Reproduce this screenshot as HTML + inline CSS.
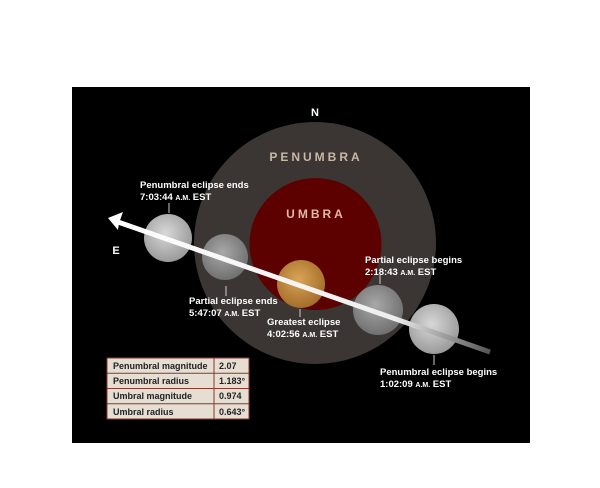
<!DOCTYPE html>
<html><head><style>
body{margin:0;background:#fff;width:600px;height:488px;overflow:hidden;font-family:"Liberation Sans",sans-serif}
</style></head><body>
<svg width="600" height="488" xmlns="http://www.w3.org/2000/svg" style="position:absolute;left:0;top:0">
<defs>
<radialGradient id="m" cx="45%" cy="40%" r="60%"><stop offset="0" stop-color="#d8d8d8"/><stop offset="1" stop-color="#9a9a9a"/></radialGradient>
<radialGradient id="md" cx="45%" cy="40%" r="60%"><stop offset="0" stop-color="#a8a8a8"/><stop offset="1" stop-color="#707070"/></radialGradient>
<radialGradient id="mo" cx="45%" cy="40%" r="60%"><stop offset="0" stop-color="#d9a458"/><stop offset="1" stop-color="#a56d2a"/></radialGradient>
<linearGradient id="ar" x1="108" y1="218" x2="490" y2="352" gradientUnits="userSpaceOnUse"><stop offset="0" stop-color="#fff"/><stop offset="0.75" stop-color="#eee"/><stop offset="1" stop-color="#555"/></linearGradient>
</defs>
<rect x="72" y="87" width="458" height="356" fill="#000"/>
<circle cx="315" cy="243" r="121" fill="#3b3633"/>
<circle cx="315.5" cy="244" r="66" fill="#5c0000"/>
<text x="315" y="116" fill="#fff" font-size="11" font-weight="bold" text-anchor="middle">N</text>
<text x="316" y="161" fill="#c8b8a6" font-size="12" font-weight="bold" text-anchor="middle" letter-spacing="3">PENUMBRA</text>
<text x="316" y="218" fill="#e0b8a8" font-size="12" font-weight="bold" text-anchor="middle" letter-spacing="3">UMBRA</text>
<text x="116" y="254" fill="#fff" font-size="11" font-weight="bold" text-anchor="middle">E</text>
<circle cx="168" cy="238" r="24" fill="url(#m)"/>
<circle cx="225" cy="257" r="23" fill="url(#md)"/>
<circle cx="301" cy="284" r="24" fill="url(#mo)"/>
<circle cx="378" cy="310" r="25" fill="url(#md)"/>
<circle cx="434" cy="329" r="25" fill="url(#m)"/>
<line x1="490" y1="352" x2="118" y2="222" stroke="url(#ar)" stroke-width="5"/>
<polygon points="108,218 123,212 119,223 118,230" fill="#fff"/>
<g stroke="#ccc" stroke-width="1">
<line x1="169" y1="203" x2="169" y2="213"/>
<line x1="226" y1="286" x2="226" y2="296"/>
<line x1="300" y1="309" x2="300" y2="317"/>
<line x1="380" y1="275" x2="380" y2="284"/>
<line x1="434" y1="355" x2="434" y2="365"/>
</g>
<g fill="#fff" font-size="9.5" font-weight="bold">
<text x="140" y="188">Penumbral eclipse ends</text>
<text x="140" y="200">7:03:44 <tspan font-size="7">A.M.</tspan> EST</text>
<text x="189" y="304">Partial eclipse ends</text>
<text x="189" y="316">5:47:07 <tspan font-size="7">A.M.</tspan> EST</text>
<text x="267" y="325">Greatest eclipse</text>
<text x="267" y="337">4:02:56 <tspan font-size="7">A.M.</tspan> EST</text>
<text x="365" y="263">Partial eclipse begins</text>
<text x="365" y="275">2:18:43 <tspan font-size="7">A.M.</tspan> EST</text>
<text x="380" y="375">Penumbral eclipse begins</text>
<text x="380" y="387">1:02:09 <tspan font-size="7">A.M.</tspan> EST</text>
</g>
<rect x="107" y="358" width="142" height="61" fill="#e6ddd3" stroke="#8a3a2a" stroke-width="1"/>
<g stroke="#8a3a2a" stroke-width="1">
<line x1="214" y1="358" x2="214" y2="419"/>
<line x1="107" y1="373.25" x2="249" y2="373.25"/>
<line x1="107" y1="388.5" x2="249" y2="388.5"/>
<line x1="107" y1="403.75" x2="249" y2="403.75"/>
</g>
<g fill="#222" font-size="9" font-weight="bold">
<text x="113" y="369">Penumbral magnitude</text><text x="219" y="369">2.07</text>
<text x="113" y="384">Penumbral radius</text><text x="219" y="384">1.183°</text>
<text x="113" y="399">Umbral magnitude</text><text x="219" y="399">0.974</text>
<text x="113" y="415">Umbral radius</text><text x="219" y="415">0.643°</text>
</g>
</svg>
</body></html>
